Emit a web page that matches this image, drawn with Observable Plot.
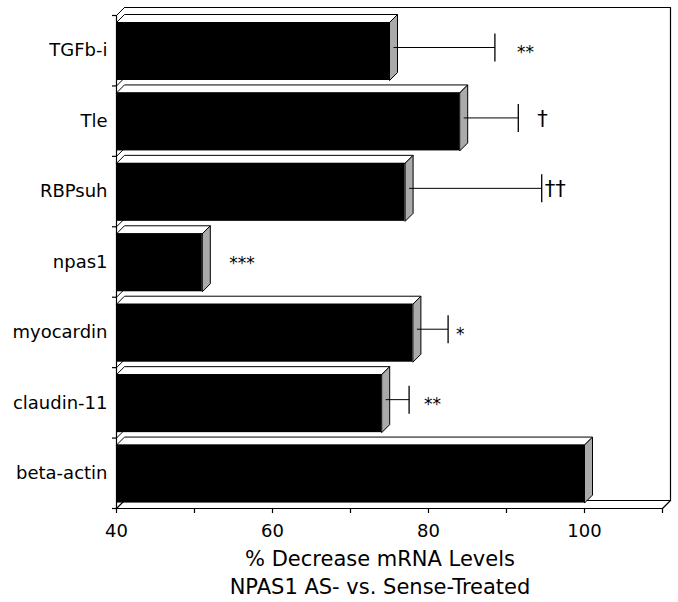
<!DOCTYPE html>
<html>
<head>
<meta charset="utf-8">
<script src="https://cdn.jsdelivr.net/npm/d3@7"></script>
<script src="https://cdn.jsdelivr.net/npm/@observablehq/plot@0.6"></script>
<style>
  html, body { margin: 0; padding: 0; background: #fff; }
  #wrap { width: 678px; }
  #title { font-family: "DejaVu Sans", sans-serif; font-size: 21px; line-height: 28px; color: #000;
           padding-left: 82px; text-align: center; }
</style>
</head>
<body>
<div id="wrap">
  <div id="chart"></div>
  <div id="title">% Decrease mRNA Levels<br>NPAS1 AS- vs. Sense-Treated</div>
</div>
<script>
// ---- data ----
const categories = ["TGFb-i", "Tle", "RBPsuh", "npas1", "myocardin", "claudin-11", "beta-actin"];
const values     = [75, 84, 77, 51, 78, 74, 100];
const errorTops  = [88, 91, 94, null, 82, 77, null];
const sigLabels  = ["**", "\u2020", "\u2020\u2020", "***", "*", "**", ""];
const xTicks     = [40, 50, 60, 70, 80, 90, 100, 110];
const xTickLabels = [40, 60, 80, 100];

// ---- layout / style ----
const W = 678, H = 545;
const mL = 116, mR = 16, mT = 15, mB = 37;
const X0 = 40, X1 = 110;
const pxX = (W - mL - mR) / (X1 - X0);
const pxY = (H - mT - mB) / categories.length;
const DEPTH = 8;                       // 3-D depth offset in px
const dxu = DEPTH / pxX, dyu = DEPTH / pxY;
const faceTop = 7 / pxY, faceBot = faceTop + 58 / pxY;
const sigGapPx = {"TGFb-i": 22, "Tle": 19, "RBPsuh": 3, "npas1": 19, "myocardin": 8, "claudin-11": 15};

const n = categories.length;
const rows = categories.map((c, i) => ({c, i, v: values[i], e: errorTops[i], s: sigLabels[i]}));

// polygons
const topFaces = [], endFaces = [];
for (const r of rows) {
  const t = r.i + faceTop, b = r.i + faceBot;
  [[X0, t], [X0 + dxu, t - dyu], [r.v + dxu, t - dyu], [r.v, t], [X0, t]]
    .forEach(([x, y]) => topFaces.push({k: r.c, x, y}));
  [[r.v, t], [r.v + dxu, t - dyu], [r.v + dxu, b - dyu], [r.v, b], [r.v, t]]
    .forEach(([x, y]) => endFaces.push({k: r.c, x, y}));
}
const floor = [[X0, n], [X1, n], [X1 + dxu, n - dyu], [X0 + dxu, n - dyu], [X0, n]].map(([x, y]) => ({x, y}));
const backFrame = [[X0 + dxu, -dyu], [X1 + dxu, -dyu], [X1 + dxu, n - dyu]].map(([x, y]) => ({x, y}));
const bounds = d3.range(0, n + 1);

const errRows = rows.filter(r => r.e != null).map(r => ({...r, yc: r.i + (faceTop + faceBot) / 2 - dyu / 2}));
const sigRows = rows.filter(r => r.s).map(r => {
  const anchor = r.e != null ? r.e + dxu / 2 : r.v + dxu;
  return {...r, yc: r.i + (faceTop + faceBot) / 2 - dyu / 2, sx: anchor + sigGapPx[r.c] / pxX};
});
const astRows = sigRows.filter(r => r.s.includes("*"));
const dagRows = sigRows.filter(r => !r.s.includes("*"));

const chart = Plot.plot({
  width: W, height: H,
  marginLeft: mL, marginRight: mR, marginTop: mT, marginBottom: mB,
  style: {fontFamily: "DejaVu Sans, sans-serif", fontSize: "17px", color: "#000", background: "#fff"},
  x: {domain: [X0, X1]},
  y: {domain: [n, 0], axis: null},
  marks: [
    // back wall frame & floor
    Plot.line(backFrame, {x: "x", y: "y", stroke: "#000", strokeWidth: 1.2}),
    Plot.line(floor, {x: "x", y: "y", fill: "#fff", stroke: "#000", strokeWidth: 1.2}),
    // left wall edge, boundary slants and ticks
    Plot.link(bounds, {x1: X0, y1: d => d, x2: X0 + dxu, y2: d => d - dyu, stroke: "#000", strokeWidth: 1}),
    Plot.ruleX([X0], {y1: 0, y2: n, stroke: "#000", strokeWidth: 1.2}),
    Plot.axisY({ticks: bounds, tickSize: 4, tickFormat: () => "", anchor: "left", strokeWidth: 1.2}),
    // bars
    Plot.line(topFaces, {x: "x", y: "y", z: "k", fill: "#fff", stroke: "#000", strokeWidth: 1}),
    Plot.rect(rows, {x1: X0, x2: "v", y1: d => d.i + faceTop, y2: d => d.i + faceBot, fill: "#000"}),
    Plot.line(endFaces, {x: "x", y: "y", z: "k", fill: "url(#stipple)", stroke: "#000", strokeWidth: 1}),
    // error bars
    Plot.link(errRows, {x1: d => d.v + dxu / 2, x2: d => d.e + dxu / 2, y1: "yc", y2: "yc", stroke: "#000", strokeWidth: 1}),
    Plot.link(errRows, {x1: d => d.e + dxu / 2, x2: d => d.e + dxu / 2, y1: d => d.yc - 14 / pxY, y2: d => d.yc + 14 / pxY, stroke: "#000", strokeWidth: 1.3}),
    // significance marks
    Plot.text(astRows, {x: "sx", y: "yc", text: "s", textAnchor: "start", fontSize: 17, dy: 5, fill: "#000"}),
    Plot.text(dagRows, {x: "sx", y: "yc", text: "s", textAnchor: "start", fontSize: 21, dy: 1, fill: "#000"}),
    // category labels
    Plot.text(rows, {x: X0, y: d => d.i + 0.5, text: "c", textAnchor: "end", dx: -9, fontSize: 18, fill: "#000"}),
    // x axis
    Plot.axisX({ticks: xTicks, tickSize: 5, tickPadding: 11, strokeWidth: 1.2,
                tickFormat: d => xTickLabels.includes(d) ? String(d) : "", label: null, fontSize: 18})
  ]
});

// stipple pattern for the bar end faces
const NS = "http://www.w3.org/2000/svg";
const defs = document.createElementNS(NS, "defs");
const pat = document.createElementNS(NS, "pattern");
pat.setAttribute("id", "stipple");
pat.setAttribute("width", "2"); pat.setAttribute("height", "2");
pat.setAttribute("patternUnits", "userSpaceOnUse");
[[0, 0, 2, 2, "#fff"], [0, 0, 1, 1, "#555"], [1, 1, 1, 1, "#555"]].forEach(([x, y, w, h, f]) => {
  const r = document.createElementNS(NS, "rect");
  r.setAttribute("x", x); r.setAttribute("y", y); r.setAttribute("width", w); r.setAttribute("height", h);
  r.setAttribute("fill", f);
  pat.appendChild(r);
});
defs.appendChild(pat);
chart.insertBefore(defs, chart.firstChild);
document.getElementById("chart").appendChild(chart);
</script>
</body>
</html>
